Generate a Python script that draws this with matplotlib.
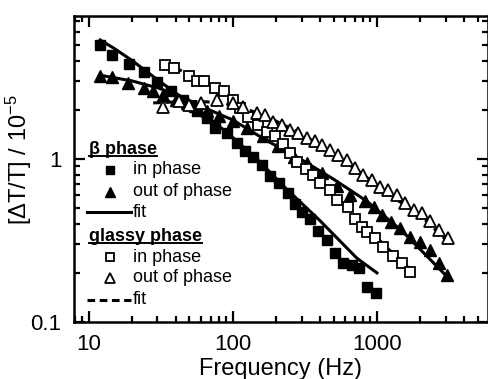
import numpy as np
import matplotlib
matplotlib.use('Agg')
import matplotlib.pyplot as plt
from matplotlib.ticker import LogLocator, FuncFormatter, NullFormatter

plt.rcParams['font.family'] = ['Liberation Sans', 'DejaVu Sans']
plt.rcParams['mathtext.fontset'] = 'custom'
plt.rcParams['mathtext.rm'] = 'Liberation Sans'
plt.rcParams['mathtext.it'] = 'Liberation Sans:italic'
plt.rcParams['mathtext.bf'] = 'Liberation Sans:bold'

# beta phase, in phase (filled squares)
b_in_f = [12, 14.5, 19, 24, 30, 37, 45, 56, 66, 75, 91, 107, 122, 139, 159, 181, 210, 240, 270,
          301, 344, 393, 450, 513, 586, 670, 745, 851, 990]
b_in_v = [5.0, 4.3, 3.8, 3.4, 2.95, 2.6, 2.3, 1.95, 1.78, 1.55, 1.44, 1.25, 1.11, 1.03, 0.92, 0.78, 0.71, 0.62, 0.53,
          0.47, 0.43, 0.36, 0.32, 0.265, 0.23, 0.224, 0.213, 0.165, 0.15]
# beta phase, out of phase (filled triangles)
b_out_f = [12, 14.6, 18.8, 24, 28, 33, 40, 48, 55, 66, 80, 100, 125, 163, 207, 264, 327, 415, 527, 653,
           832, 950, 1080, 1250, 1450, 1700, 2000, 2345, 2680, 3060]
b_out_v = [3.23, 3.15, 2.92, 2.72, 2.6, 2.45, 2.3, 2.2, 2.12, 1.97, 1.83, 1.7, 1.54, 1.37, 1.19, 1.03, 0.94, 0.82, 0.68, 0.6,
           0.55, 0.51, 0.45, 0.41, 0.376, 0.334, 0.31, 0.277, 0.229, 0.194]
# glassy phase, in phase (open squares)
g_in_f = [34, 39, 50, 56, 63, 75, 87, 100, 112, 128, 150, 172, 196, 222, 250, 278, 320, 362, 404, 470,
          527, 633, 707, 786, 856, 970, 1104, 1300, 1490, 1700]
g_in_v = [3.75, 3.62, 3.2, 3.0, 2.98, 2.7, 2.6, 2.3, 2.05, 1.8, 1.6, 1.47, 1.37, 1.24, 1.08, 0.96, 0.87, 0.8, 0.71, 0.645,
          0.56, 0.51, 0.43, 0.384, 0.358, 0.326, 0.29, 0.252, 0.229, 0.203]
# glassy phase, out of phase (open triangles)
g_out_f = [33, 42, 50, 60, 78, 101, 118, 146, 168, 191, 219, 248, 284, 325, 372, 415, 470, 540, 620, 707,
           805, 925, 1054, 1200, 1377, 1570, 1797, 2050, 2345, 2680, 3090]
g_out_v = [2.09, 2.25, 2.15, 2.2, 2.3, 2.2, 2.09, 1.91, 1.86, 1.69, 1.62, 1.5, 1.44, 1.34, 1.28, 1.22, 1.14, 1.06, 0.986, 0.877,
           0.8, 0.743, 0.676, 0.645, 0.6, 0.535, 0.486, 0.465, 0.413, 0.367, 0.326]

# fits
b_in_fit_f = [12, 15, 20, 30, 50, 70, 100, 150, 237, 400, 726, 1000]
b_in_fit_v = [5.35, 4.75, 4.0, 3.05, 2.2, 1.75, 1.35, 0.98, 0.65, 0.42, 0.246, 0.2]
b_out_fit_f = [12, 20, 31, 43, 60, 100, 170, 293, 500, 851, 1500, 3060]
b_out_fit_v = [3.25, 3.0, 2.7, 2.42, 2.1, 1.73, 1.3, 1.0, 0.75, 0.55, 0.36, 0.19]
g_in_fit_f = [33, 50, 75, 100, 150, 220, 350, 530, 800, 1200, 1700]
g_in_fit_v = [3.85, 3.3, 2.75, 2.3, 1.7, 1.25, 0.82, 0.57, 0.4, 0.28, 0.21]
g_out_fit_f = [28, 50, 80, 120, 200, 300, 500, 800, 1300, 2000, 3000]
g_out_fit_v = [2.2, 2.25, 2.22, 2.05, 1.7, 1.42, 1.08, 0.8, 0.58, 0.45, 0.32]

fig = plt.figure(figsize=(4.89, 3.79), dpi=100)
ax = fig.add_axes([74/489, 57/379, 414/489, 306/379])

lw = 2.2
ax.plot(b_in_fit_f, b_in_fit_v, 'k-', lw=lw)
ax.plot(b_out_fit_f, b_out_fit_v, 'k-', lw=lw)
ax.plot(g_in_fit_f, g_in_fit_v, 'k--', lw=lw, dashes=(2.5, 1.5))
ax.plot(g_out_fit_f, g_out_fit_v, 'k--', lw=lw, dashes=(2.5, 1.5))

ms = 7
ax.plot(b_in_f, b_in_v, 's', color='k', ms=ms, ls='none')
ax.plot(b_out_f, b_out_v, '^', color='k', ms=ms + 1, ls='none')
ax.plot(g_in_f, g_in_v, 's', mfc='white', mec='k', mew=1.3, ms=ms, ls='none')
ax.plot(g_out_f, g_out_v, '^', mfc='white', mec='k', mew=1.3, ms=ms + 1, ls='none')

ax.set_xscale('log')
ax.set_yscale('log')
ax.set_xlim(7.9, 5900)
ax.set_ylim(0.1, 7.5)

fmt = FuncFormatter(lambda v, p: '%g' % v)
ax.xaxis.set_major_formatter(fmt)
ax.yaxis.set_major_formatter(fmt)
ax.xaxis.set_minor_formatter(NullFormatter())
ax.yaxis.set_minor_formatter(NullFormatter())
ax.yaxis.set_minor_locator(LogLocator(base=10, subs=np.arange(2, 10)))
ax.xaxis.set_minor_locator(LogLocator(base=10, subs=np.arange(2, 10)))

ax.tick_params(which='both', direction='in', top=True, right=True, width=1.6, labelsize=16)
ax.tick_params(which='major', length=8, pad=9)
ax.tick_params(which='minor', length=4)
for s in ax.spines.values():
    s.set_linewidth(1.8)

ax.set_xlabel('Frequency (Hz)', fontsize=17, labelpad=2)
ax.set_ylabel('[ΔT/T] / 10$^{-5}$', fontsize=17)
ax.yaxis.set_label_coords(-0.097, 0.53)

# legend drawn by hand
tx = 0.143
mx = 0.087
fs = 13
rows = [0.497, 0.425, 0.359, 0.212, 0.144, 0.072]
ax.plot([mx], [rows[0]], 's', color='k', ms=6, transform=ax.transAxes)
ax.plot([mx], [rows[1]], '^', color='k', ms=7, transform=ax.transAxes)
ax.plot([0.031, 0.138], [rows[2], rows[2]], 'k-', lw=lw, transform=ax.transAxes)
ax.plot([mx], [rows[3]], 's', mfc='white', mec='k', mew=1.3, ms=6, transform=ax.transAxes)
ax.plot([mx], [rows[4]], '^', mfc='white', mec='k', mew=1.3, ms=7, transform=ax.transAxes)
ax.plot([0.031, 0.138], [rows[5], rows[5]], 'k--', lw=lw, dashes=(2.5, 1.5), transform=ax.transAxes)
labels = ['in phase', 'out of phase', 'fit', 'in phase', 'out of phase', 'fit']
for r, l in zip(rows, labels):
    ax.text(tx, r, l, fontsize=fs, va='center', ha='left', transform=ax.transAxes)

h1 = ax.text(0.036, 0.565, 'β phase', fontsize=fs, fontweight='bold', va='center', ha='left', transform=ax.transAxes)
h2 = ax.text(0.036, 0.281, 'glassy phase', fontsize=fs, fontweight='bold', va='center', ha='left', transform=ax.transAxes)

fig.canvas.draw()
r = fig.canvas.get_renderer()
inv = ax.transAxes.inverted()
for h in (h1, h2):
    bb = h.get_window_extent(r)
    (x0, y0), (x1, y1) = inv.transform([[bb.x0, bb.y0], [bb.x1, bb.y1]])
    ax.plot([x0, x1], [y0 + 0.004, y0 + 0.004], 'k-', lw=1.4, transform=ax.transAxes)

fig.savefig('out.png', dpi=100)
